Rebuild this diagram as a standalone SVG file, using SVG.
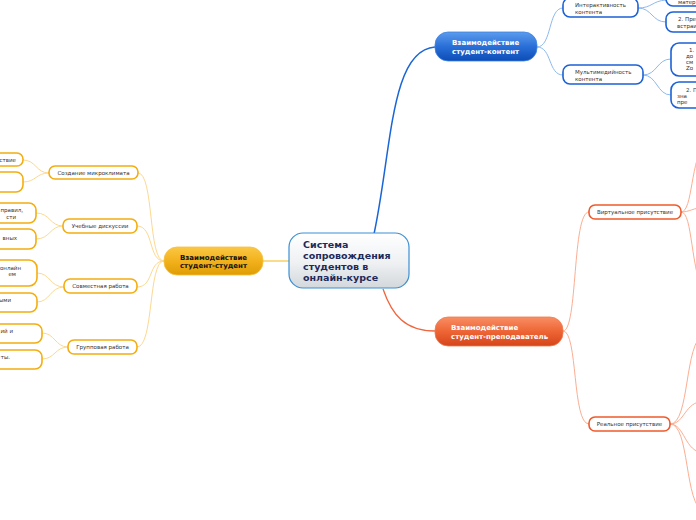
<svg xmlns="http://www.w3.org/2000/svg" width="696" height="520" viewBox="0 0 696 520">
<defs>
<linearGradient id="gCenter" x1="0" y1="0" x2="0" y2="1">
<stop offset="0" stop-color="#ffffff"/><stop offset="0.55" stop-color="#eef0f2"/><stop offset="1" stop-color="#d3d8dc"/>
</linearGradient>
<linearGradient id="gBlue" x1="0" y1="0" x2="0" y2="1">
<stop offset="0" stop-color="#5b9ced"/><stop offset="0.5" stop-color="#2a6fd8"/><stop offset="1" stop-color="#0c4cb6"/>
</linearGradient>
<linearGradient id="gRed" x1="0" y1="0" x2="0" y2="1">
<stop offset="0" stop-color="#f88e63"/><stop offset="0.5" stop-color="#ee6535"/><stop offset="1" stop-color="#d5441a"/>
</linearGradient>
<linearGradient id="gOrange" x1="0" y1="0" x2="0" y2="1">
<stop offset="0" stop-color="#fbc744"/><stop offset="0.5" stop-color="#f2b21c"/><stop offset="1" stop-color="#df9c05"/>
</linearGradient>
<style>
text{font-family:"DejaVu Sans","Liberation Sans",sans-serif}
.main{font-size:7px;font-weight:bold}
.sub{font-size:5.5px;fill:#333}
.leaf{font-size:5.5px;fill:#333}
.bsub{fill:#fff;stroke:#1c62d6;stroke-width:1.6}
.rsub{fill:#fff;stroke:#f0592b;stroke-width:1.6}
.osub{fill:#fff;stroke:#f4ad0f;stroke-width:1.6}
.cb{fill:none;stroke:#8db9ef;stroke-width:1}
.cr{fill:none;stroke:#fbae93;stroke-width:1}
.co{fill:none;stroke:#fcd992;stroke-width:1}
</style>
</defs>

<g id="connectors">
<path d="M374,234 C392,150 390,50 435,47" fill="none" stroke="#1a66d6" stroke-width="1.5"/>
<path d="M383,289 C392,315 405,331 435,331" fill="none" stroke="#f0653b" stroke-width="1.3"/>
<path d="M263,261 L289,261" fill="none" stroke="#f8c74a" stroke-width="1.3"/>

<path class="cb" d="M537,47 C552,47 548,8 563,8"/>
<path class="cb" d="M537,47 C552,47 548,75 563,75"/>
<path class="cb" d="M638,8 C652,8 652,1 666,0"/>
<path class="cb" d="M638,8 C652,8 652,22 666,22"/>
<path class="cb" d="M643,75 C657,75 657,59 671,59"/>
<path class="cb" d="M643,75 C657,75 657,95 671,95"/>

<path class="cr" d="M563,331 C578,331 572,212 589,212"/>
<path class="cr" d="M563,331 C578,331 572,424 589,424"/>
<path class="cr" d="M681,212 C693,212 690,160 706,140"/>
<path class="cr" d="M681,212 C690,212 692,208 706,207"/>
<path class="cr" d="M681,212 C693,212 690,270 706,300"/>
<path class="cr" d="M670,424 C690,424 684,342 704,334"/>
<path class="cr" d="M670,424 C685,424 684,402 704,401"/>
<path class="cr" d="M670,424 C685,424 684,452 704,453"/>
<path class="cr" d="M670,424 C690,424 684,505 704,512"/>

<path class="co" d="M164,261 C148,261 154,173 138,173"/>
<path class="co" d="M164,261 C148,261 154,226 137,226"/>
<path class="co" d="M164,261 C148,261 154,287 137,287"/>
<path class="co" d="M164,261 C148,261 154,347 137,347"/>
<path class="co" d="M49,173 C36,173 36,160 23,160"/>
<path class="co" d="M49,173 C36,173 36,182 23,182"/>
<path class="co" d="M63,226 C50,226 50,213 36,213"/>
<path class="co" d="M63,226 C50,226 50,239 36,239"/>
<path class="co" d="M64,287 C50,287 50,273 37,273"/>
<path class="co" d="M64,287 C50,287 50,302 37,302"/>
<path class="co" d="M68,347 C55,347 55,333 42,333"/>
<path class="co" d="M68,347 C55,347 55,359 42,359"/>
</g>

<g id="center">
<rect x="289" y="233" width="120" height="55" rx="14" fill="url(#gCenter)" stroke="#3a8fd4" stroke-width="1.2"/>
<text x="303" y="248" font-size="9.5" font-weight="bold" fill="#1d2a5a">Система</text>
<text x="303" y="259" font-size="9.5" font-weight="bold" fill="#1d2a5a">сопровождения</text>
<text x="303" y="270" font-size="9.5" font-weight="bold" fill="#1d2a5a">студентов в</text>
<text x="303" y="281" font-size="9.5" font-weight="bold" fill="#1d2a5a">онлайн-курсе</text>
</g>

<g id="n-content">
<rect x="435" y="32" width="102" height="29" rx="13" fill="url(#gBlue)" stroke="#3f82e0" stroke-width="0.8"/>
<text class="main" x="452" y="45" fill="#fff">Взаимодействие</text>
<text class="main" x="452" y="54" fill="#fff">студент-контент</text>
</g>
<g id="n-teacher">
<rect x="435" y="317" width="128" height="29" rx="13" fill="url(#gRed)" stroke="#f27a4f" stroke-width="0.8"/>
<text class="main" x="451" y="330" fill="#fff">Взаимодействие</text>
<text class="main" x="451" y="339" fill="#fff">студент-преподаватель</text>
</g>
<g id="n-student">
<rect x="164" y="247" width="99" height="28" rx="13" fill="url(#gOrange)" stroke="#f6c040" stroke-width="0.8"/>
<text class="main" x="213.5" y="259.5" fill="#111" text-anchor="middle">Взаимодействие</text>
<text class="main" x="213.5" y="268" fill="#111" text-anchor="middle">студент-студент</text>
</g>

<g id="n-interact">
<rect class="bsub" x="563" y="-2" width="75" height="19" rx="7"/>
<text class="sub" x="575" y="7">Интерактивность</text>
<text class="sub" x="575" y="13.5">контента</text>
</g>
<g id="n-multi">
<rect class="bsub" x="563" y="65" width="80" height="19" rx="7"/>
<text class="sub" x="575" y="73.5">Мультимедийность</text>
<text class="sub" x="575" y="80.5">контента</text>
</g>
<g id="l-b1">
<rect class="bsub" x="666" y="-12" width="90" height="18" rx="7"/>
<text class="leaf" x="678" y="3.5">матер</text>
</g>
<g id="l-b2">
<rect class="bsub" x="666" y="12" width="90" height="20" rx="7"/>
<text class="leaf" x="678" y="21">2. Пре</text>
<text class="leaf" x="677" y="27.5">встраи</text>
</g>
<g id="l-b3">
<rect class="bsub" x="671" y="43" width="90" height="33" rx="8"/>
<text class="leaf" x="689" y="52">1.</text>
<text class="leaf" x="686" y="58">до</text>
<text class="leaf" x="686" y="64">см</text>
<text class="leaf" x="686" y="70">Zo</text>
</g>
<g id="l-b4">
<rect class="bsub" x="671" y="82" width="90" height="26" rx="8"/>
<text class="leaf" x="686" y="91.5">2. П</text>
<text class="leaf" x="677" y="97.5">зна</text>
<text class="leaf" x="677" y="104">пре</text>
</g>

<g id="n-virtual">
<rect class="rsub" x="589" y="205" width="92" height="14" rx="6"/>
<text class="sub" x="635" y="214" text-anchor="middle">Виртуальное присутствие</text>
</g>
<g id="n-real">
<rect class="rsub" x="589" y="417" width="81" height="14" rx="6"/>
<text class="sub" x="629.5" y="426" text-anchor="middle">Реальное присутствие</text>
</g>

<g id="n-micro">
<rect class="osub" x="49" y="166" width="89" height="13" rx="6"/>
<text class="sub" x="93.5" y="174.5" text-anchor="middle">Создание микроклимата</text>
</g>
<g id="n-disc">
<rect class="osub" x="63" y="219" width="74" height="14" rx="6"/>
<text class="sub" x="100" y="228" text-anchor="middle">Учебные дискуссии</text>
</g>
<g id="n-joint">
<rect class="osub" x="64" y="279" width="73" height="14" rx="6"/>
<text class="sub" x="100.5" y="288" text-anchor="middle">Совместная работа</text>
</g>
<g id="n-group">
<rect class="osub" x="68" y="340" width="69" height="14" rx="6"/>
<text class="sub" x="102.5" y="349" text-anchor="middle">Групповая работа</text>
</g>

<g id="l-o1">
<rect class="osub" x="-70" y="153" width="93" height="13" rx="6"/>
<text class="leaf" x="16" y="161.5" text-anchor="end">ствие</text>
</g>
<g id="l-o2">
<rect class="osub" x="-70" y="172" width="93" height="20" rx="7"/>
</g>
<g id="l-o3">
<rect class="osub" x="-70" y="203" width="106" height="20" rx="7"/>
<text class="leaf" x="23" y="212" text-anchor="end">правил,</text>
<text class="leaf" x="16" y="218.5" text-anchor="end">сти</text>
</g>
<g id="l-o4">
<rect class="osub" x="-70" y="229" width="106" height="20" rx="7"/>
<text class="leaf" x="17" y="239.5" text-anchor="end">вных</text>
</g>
<g id="l-o5">
<rect class="osub" x="-70" y="260" width="107" height="26" rx="8"/>
<text class="leaf" x="21" y="270" text-anchor="end">онлайн</text>
<text class="leaf" x="16" y="276" text-anchor="end">ем</text>
</g>
<g id="l-o6">
<rect class="osub" x="-70" y="293" width="107" height="19" rx="7"/>
<text class="leaf" x="11" y="301.5" text-anchor="end">ыми</text>
</g>
<g id="l-o7">
<rect class="osub" x="-70" y="324" width="112" height="19" rx="7"/>
<text class="leaf" x="13" y="333" text-anchor="end">ий и</text>
</g>
<g id="l-o8">
<rect class="osub" x="-70" y="350" width="112" height="19" rx="7"/>
<text class="leaf" x="10" y="358.5" text-anchor="end">ты.</text>
</g>
</svg>
